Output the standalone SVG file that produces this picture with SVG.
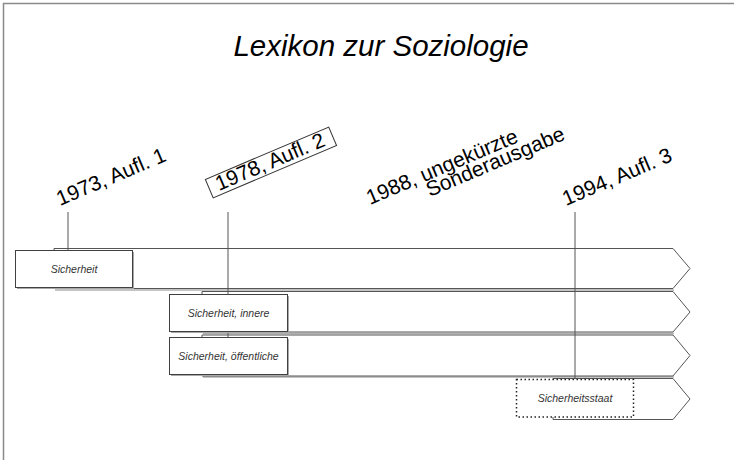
<svg xmlns="http://www.w3.org/2000/svg" width="734" height="460" viewBox="0 0 734 460">
<style>
  .frame{stroke:#8a8a8a;stroke-width:1.5;fill:none}
  .arrow{fill:#fff;stroke:#555;stroke-width:1}
  .arrowsh{fill:none;stroke:#b0b0b0;stroke-width:1.5}
  .box{fill:#fff;stroke:#404040;stroke-width:1}
  .boxsh{fill:#a8a8a8}
  .dotbox{fill:#fff;stroke:#222;stroke-width:1.5;stroke-dasharray:1.5 2.5}
  .conn{stroke:#555;stroke-width:1;fill:none}
  .lbl{font-family:"Liberation Sans",Arial,sans-serif;font-style:italic;font-size:10.5px;fill:#333;text-anchor:middle}
  .yr{font-family:"Liberation Sans",Arial,sans-serif;font-size:21px;fill:#000}
  .title{font-family:"Liberation Sans",Arial,sans-serif;font-style:italic;font-size:29.5px;fill:#000;text-anchor:middle}
</style>
<rect width="734" height="460" fill="#fff"/>
<path class="frame" d="M3.5,460 V3.5 H734"/>
<text class="title" x="381" y="56">Lexikon zur Soziologie</text>

<g id="arrows">
  <g id="arrow1">
    <polyline class="arrowsh" points="55,290 674,290"/>
    <polygon class="arrow" points="54,248.5 673,248.5 690,268.5 673,288.5 54,288.5"/>
  </g>
  <g id="arrow2">
    <polyline class="arrowsh" points="203,333.5 674,333.5"/>
    <polygon class="arrow" points="202,291.5 673,291.5 690,312 673,332 202,332"/>
  </g>
  <g id="arrow3">
    <polyline class="arrowsh" points="203,377 674,377"/>
    <polygon class="arrow" points="202,335 673,335 690,355.5 673,376 202,376"/>
  </g>
  <g id="arrow4">
    <polygon class="arrow" points="553,378.5 673,378.5 690,399 673,419.5 553,419.5"/>
  </g>
</g>

<g id="connectors">
  <line class="conn" x1="68" y1="212" x2="68" y2="250"/>
  <line class="conn" x1="228" y1="212" x2="228" y2="337"/>
  <line class="conn" x1="575" y1="212" x2="575" y2="379"/>
</g>

<g id="n-sicherheit">
  <rect class="boxsh" x="17" y="252" width="117" height="37"/>
  <rect class="box" x="15.5" y="250.5" width="117" height="37"/>
  <text class="lbl" x="74" y="272.5">Sicherheit</text>
</g>
<g id="n-innere">
  <rect class="boxsh" x="171" y="296" width="118" height="37"/>
  <rect class="box" x="169.5" y="294.5" width="118" height="37"/>
  <text class="lbl" x="228.5" y="316.5">Sicherheit, innere</text>
</g>
<g id="n-oeffentliche">
  <rect class="boxsh" x="171" y="339" width="118" height="37"/>
  <rect class="box" x="169.5" y="337.5" width="118" height="37"/>
  <text class="lbl" x="228.5" y="359.5">Sicherheit, öffentliche</text>
</g>
<g id="n-sicherheitsstaat">
  <rect class="dotbox" x="516.5" y="379.5" width="117" height="37.5"/>
  <text class="lbl" x="575" y="402">Sicherheitsstaat</text>
</g>

<g id="l-1973" transform="translate(60,206) rotate(-23)">
  <text class="yr" x="0" y="0">1973, Aufl. 1</text>
</g>
<g id="l-1978" transform="translate(219,191) rotate(-23)">
  <rect x="-8" y="-16" width="134" height="20" fill="#fff" stroke="#333" stroke-width="1"/>
  <text class="yr" x="0" y="0">1978, Aufl. 2</text>
</g>
<g id="l-1988" transform="translate(370,205) rotate(-23)">
  <text class="yr" x="0" y="0">1988, ungekürzte</text>
  <text class="yr" x="58" y="16">Sonderausgabe</text>
</g>
<g id="l-1994" transform="translate(566,206) rotate(-23)">
  <text class="yr" x="0" y="0">1994, Aufl. 3</text>
</g>
</svg>
